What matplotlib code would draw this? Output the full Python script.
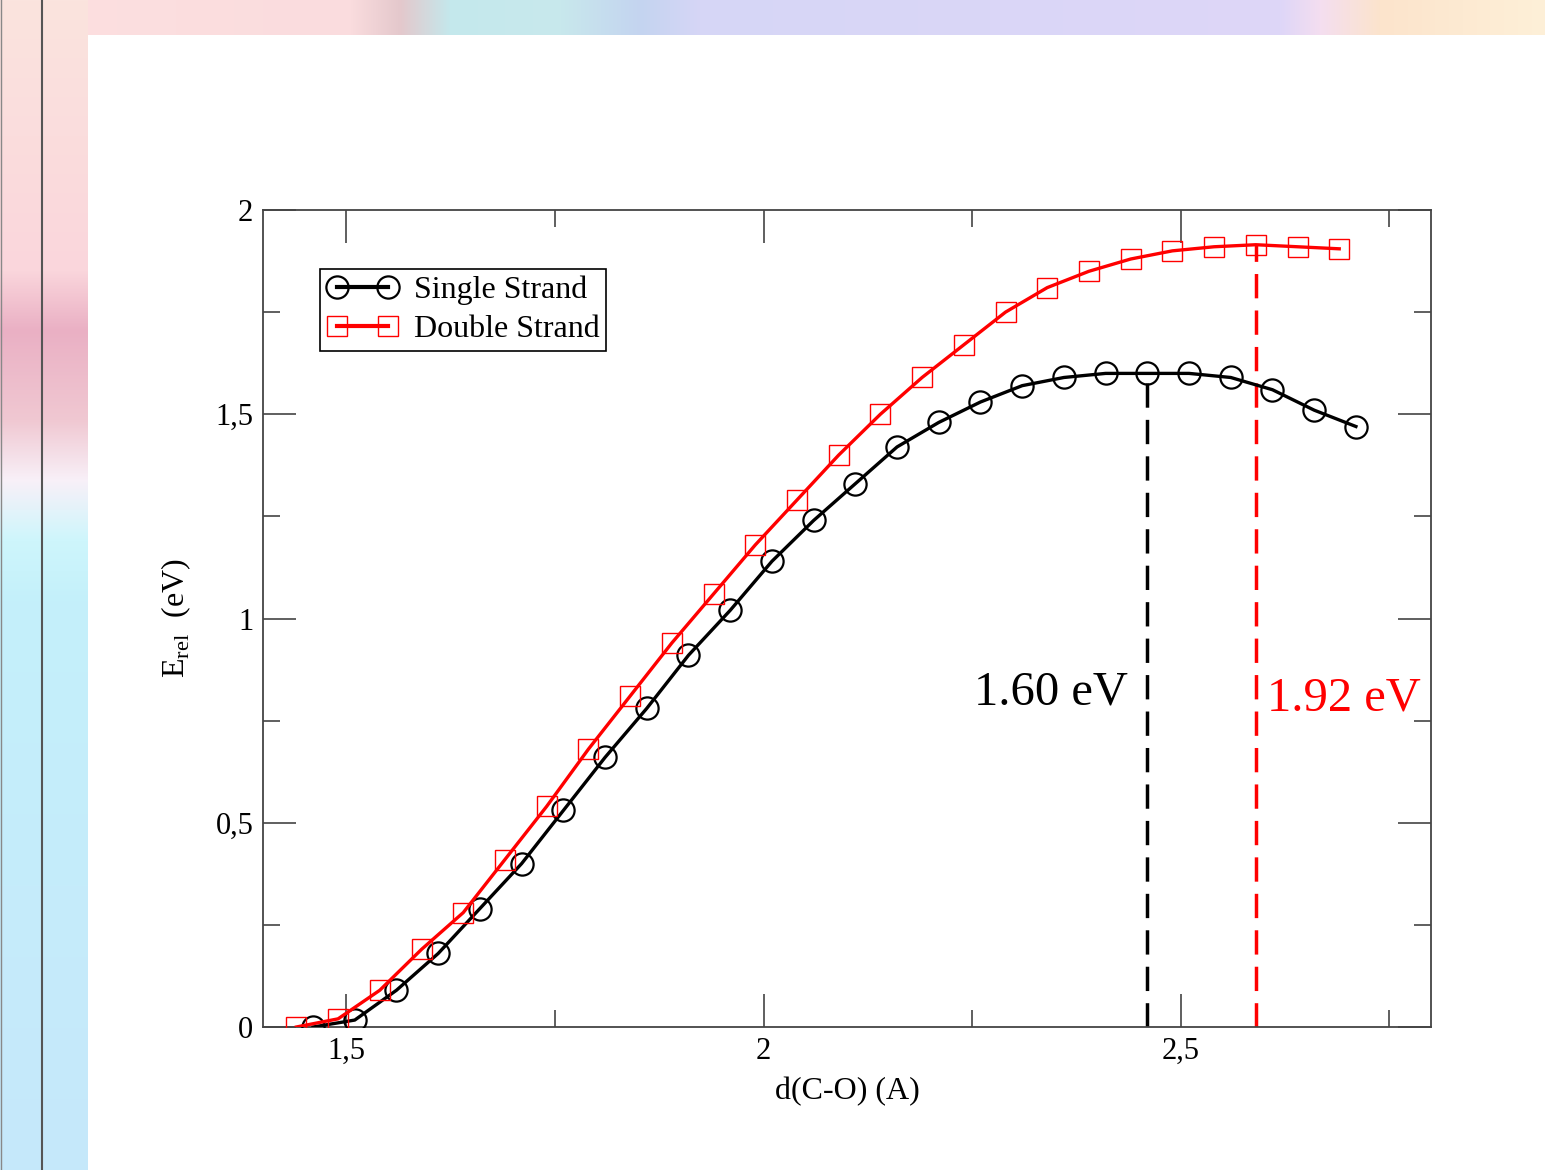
import numpy as np
import matplotlib
matplotlib.use('Agg')
import matplotlib.pyplot as plt

# ==> Data
x_single = [1.46, 1.51, 1.56, 1.61, 1.66, 1.71, 1.76, 1.81, 1.86, 1.91, 1.96, 2.01, 2.06,
            2.11, 2.16, 2.21, 2.26, 2.31, 2.36, 2.41, 2.46, 2.51, 2.56, 2.61, 2.66, 2.71]
e_single = [0.0, 0.017, 0.09, 0.18, 0.29, 0.40, 0.53, 0.66, 0.78, 0.91, 1.02, 1.14, 1.24,
            1.33, 1.42, 1.48, 1.53, 1.57, 1.59, 1.60, 1.60, 1.60, 1.59, 1.56, 1.51, 1.47]

x_double = [1.44, 1.49, 1.54, 1.59, 1.64, 1.69, 1.74, 1.79, 1.84, 1.89, 1.94, 1.99, 2.04,
            2.09, 2.14, 2.19, 2.24, 2.29, 2.34, 2.39, 2.44, 2.49, 2.54, 2.59, 2.64, 2.69]
e_double = [0.0, 0.02, 0.09, 0.19, 0.28, 0.41, 0.54, 0.68, 0.81, 0.94, 1.06, 1.18, 1.29,
            1.40, 1.50, 1.59, 1.67, 1.75, 1.81, 1.85, 1.88, 1.90, 1.91, 1.915, 1.91, 1.905]

barrier_x = [2.46, 2.59]
barrier_e = [1.60, 1.915]
barrier_labels = ['1.60 eV', '1.92 eV']

xticks = [1.5, 2.0, 2.5]
xtick_labels = ['1,5', '2', '2,5']
yticks = [0, 0.5, 1.0, 1.5, 2.0]
ytick_labels = ['0', '0,5', '1', '1,5', '2']

plt.rcParams['font.family'] = ['Liberation Serif', 'DejaVu Serif']

fig = plt.figure(figsize=(15.45, 11.7), dpi=100)

# ==> Slide background (gradient strips on top and left)
W, H = 1545, 1170
bg = np.ones((H, W, 3))

top_pos = [0, 350, 400, 450, 560, 640, 700, 1280, 1320, 1380, 1545]
top_cols = np.array([[253, 224, 224], [250, 220, 222], [228, 200, 204], [196, 232, 236],
                     [200, 232, 236], [196, 212, 240], [214, 214, 246], [222, 214, 248],
                     [244, 222, 240], [252, 228, 204], [254, 240, 216]]) / 255
left_pos = [0, 270, 330, 420, 480, 540, 600, 1170]
left_cols = np.array([[250, 228, 222], [250, 214, 220], [234, 176, 196], [240, 200, 210],
                      [248, 240, 248], [206, 246, 252], [196, 240, 250], [198, 232, 250]]) / 255

xs = np.arange(W)
ys = np.arange(H)
top = np.stack([np.interp(xs, top_pos, top_cols[:, c]) for c in range(3)], axis=-1)
left = np.stack([np.interp(ys, left_pos, left_cols[:, c]) for c in range(3)], axis=-1)
bg[:35, :, :] = top[None, :, :]
bg[:, :88, :] = left[:, None, :]

bg_ax = fig.add_axes([0, 0, 1, 1])
bg_ax.imshow(bg, aspect='auto', extent=(0, W, H, 0))
bg_ax.axvline(42, color='#555555', lw=1.5)
bg_ax.axvline(0.5, color='#888888', lw=1.0)
bg_ax.set_xlim(0, W)
bg_ax.set_ylim(H, 0)
bg_ax.axis('off')

# ==> Main plot
ax = fig.add_axes([263 / W, 1 - 1027 / H, (1431 - 263) / W, (1027 - 210) / H])
ax.set_facecolor('white')

ax.plot(x_single, e_single, color='black', lw=2.4, marker='o', ms=16,
        mfc='none', mec='black', mew=1.6, label='Single Strand', zorder=3)
ax.plot(x_double, e_double, color='#ff0000', lw=2.4, marker='s', ms=14,
        mfc='none', mec='#ff0000', mew=1.0, label='Double Strand', zorder=3)

colors = ['black', '#ff0000']
for bx, be, c in zip(barrier_x, barrier_e, colors):
    ax.plot([bx, bx], [0, be], color=c, lw=2.5, ls=(0, (7, 3.5)), zorder=2)

ax.text(2.437, 0.82, barrier_labels[0], color='black', fontsize=35,
        ha='right', va='center')
ax.text(2.604, 0.805, barrier_labels[1], color='#ff0000', fontsize=35,
        ha='left', va='center')

ax.set_xlim(1.4, 2.8)
ax.set_ylim(0, 2)
ax.set_xticks(xticks)
ax.set_xticklabels(xtick_labels)
ax.set_yticks(yticks)
ax.set_yticklabels(ytick_labels)
ax.set_xticks([1.75, 2.25, 2.75], minor=True)
ax.set_yticks([0.25, 0.75, 1.25, 1.75], minor=True)
ax.tick_params(which='both', direction='in', top=True, right=True,
               labelsize=22, color='#444444', width=1.2, pad=7)
ax.tick_params(which='major', length=24)
ax.tick_params(which='minor', length=12)
for s in ax.spines.values():
    s.set_color('#444444')
    s.set_linewidth(1.3)

ax.set_xlabel('d(C-O) (A)', fontsize=23, labelpad=8)
ax.set_ylabel(r'E$_{\mathregular{rel}}$  (eV)', fontsize=23, labelpad=16)

leg = ax.legend(loc='upper left', bbox_to_anchor=(0.049, 0.928), numpoints=2,
                fontsize=23, fancybox=False, framealpha=1, edgecolor='black',
                handlelength=2.2, borderpad=0.22, labelspacing=0.3,
                handletextpad=0.5, borderaxespad=0)
leg.get_frame().set_linewidth(1.2)
for h in leg.get_lines():
    h.set_linewidth(3.0)

fig.savefig('out.png', dpi=100)
